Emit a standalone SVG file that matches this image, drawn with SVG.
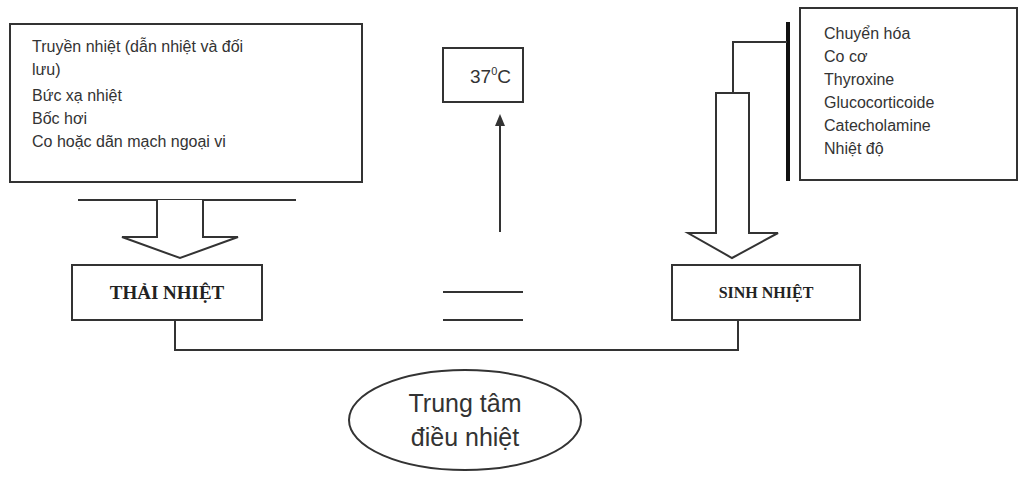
<svg xmlns="http://www.w3.org/2000/svg" width="1024" height="481" viewBox="0 0 1024 481">
<style>
.b{fill:#fff;stroke:#333;stroke-width:2}
.l{fill:none;stroke:#333;stroke-width:2}
.t{font-family:"Liberation Sans",Arial,sans-serif;font-size:16px;fill:#333}
.h{font-family:"Liberation Serif","Times New Roman",serif;font-size:17px;font-weight:bold;fill:#222}
</style>
<rect width="1024" height="481" fill="#fff"/>
<g id="left-box"><rect class="b" x="10" y="24" width="352" height="158"/>
<text class="t" x="32" y="52">Truyền nhiệt (dẫn nhiệt và đối</text>
<text class="t" x="32" y="75">lưu)</text>
<text class="t" x="32" y="101">Bức xạ nhiệt</text>
<text class="t" x="32" y="124">Bốc hơi</text>
<text class="t" x="32" y="147">Co hoặc dãn mạch ngoại vi</text></g>
<g id="temp"><rect class="b" x="443" y="48" width="80" height="54"/>
<text class="t" x="470" y="83" style="font-size:19px">37<tspan style="font-size:11px" dy="-8">0</tspan><tspan dy="8">C</tspan></text></g>
<g id="right-box"><rect class="b" x="800" y="8" width="217" height="172"/>
<text class="t" x="824" y="39">Chuyển hóa</text>
<text class="t" x="824" y="62">Co cơ</text>
<text class="t" x="824" y="85">Thyroxine</text>
<text class="t" x="824" y="108">Glucocorticoide</text>
<text class="t" x="824" y="131">Catecholamine</text>
<text class="t" x="824" y="154">Nhiệt độ</text></g>
<g id="thai"><rect class="b" x="72" y="265" width="190" height="55"/><text class="h" x="167" y="299" text-anchor="middle" style="font-size:19px">THẢI NHIỆT</text></g>
<g id="sinh"><rect class="b" x="672" y="265" width="188" height="55"/><text class="h" x="766" y="298" text-anchor="middle" style="font-size:16px">SINH NHIỆT</text></g>
<g id="center"><ellipse class="b" cx="465" cy="420" rx="116" ry="50"/>
<text class="t" x="465" y="412" text-anchor="middle" style="font-size:25px">Trung tâm</text>
<text class="t" x="465" y="446" text-anchor="middle" style="font-size:25px">điều nhiệt</text></g>
<g id="connectors">
<line class="l" x1="78" y1="200" x2="296" y2="200"/>
<path class="b" d="M157,200 V237 H122 L180,258 L238,237 H203 V200"/>
<line class="l" x1="500" y1="232" x2="500" y2="122"/>
<path d="M500,114 L495,126 L505,126 Z" fill="#333"/>
<line class="l" x1="443" y1="292" x2="523" y2="292"/>
<line class="l" x1="443" y1="320" x2="523" y2="320"/>
<line x1="788" y1="22" x2="788" y2="181" stroke="#111" stroke-width="4"/>
<path class="l" d="M787,42 H733 V93"/>
<path class="b" d="M716,93 H749 V233 H778 L732,258 L688,233 H716 Z"/>
<path class="l" d="M175,320 V350 H738 V320"/>
</g>
</svg>
